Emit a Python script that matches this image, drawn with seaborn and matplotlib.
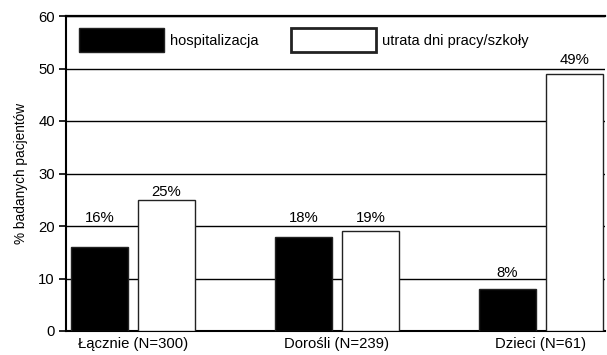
import matplotlib
matplotlib.use("Agg")
import matplotlib.pyplot as plt
from matplotlib.patches import Patch
import pandas as pd
import seaborn as sns

# Data
groups = ["Łącznie (N=300)", "Dorośli (N=239)", "Dzieci (N=61)"]
series_names = ["hospitalizacja", "utrata dni pracy/szkoły"]
hospitalizacja = [16, 18, 8]
utrata_dni = [25, 19, 49]
# heights at which the percentage labels sit
label_y_hosp = [20.8, 20.8, 10.3]
label_y_utrata = [25.8, 20.8, 50.8]
y_ticks = [0, 10, 20, 30, 40, 50, 60]

df = pd.DataFrame({
    "grupa": groups * 2,
    "seria": [series_names[0]] * 3 + [series_names[1]] * 3,
    "wartosc": hospitalizacja + utrata_dni,
})

sns.set_theme(style="ticks")
plt.rcParams["font.family"] = ["Liberation Sans", "DejaVu Sans"]
plt.rcParams["text.color"] = "black"
plt.rcParams["axes.labelcolor"] = "black"
plt.rcParams["xtick.color"] = "black"
plt.rcParams["ytick.color"] = "black"

fig = plt.figure(figsize=(6.07, 3.55), dpi=100)
ax = fig.add_axes([66 / 607, 24 / 355, 539 / 607, 315 / 355])

palette = {series_names[0]: "black", series_names[1]: "white"}
sns.barplot(data=df, x="grupa", y="wartosc", hue="seria", hue_order=series_names,
            order=groups, palette=palette, edgecolor="#222222", linewidth=1.0,
            width=0.66, gap=0.155, dodge=True, saturation=1, ax=ax, legend=False,
            zorder=3)

ax.set_xlim(-0.328, 2.314)
ax.set_ylim(0, 60)
ax.set_yticks(y_ticks)
ax.set_axisbelow(True)
ax.yaxis.grid(True, color="black", linewidth=1.0)
ax.xaxis.grid(False)

ax.spines["right"].set_visible(False)
ax.spines["top"].set_linewidth(1.6)
ax.spines["left"].set_linewidth(1.5)
ax.spines["bottom"].set_linewidth(1.5)
for s in ax.spines.values():
    s.set_color("black")

ax.tick_params(axis="y", length=5, width=1.2, pad=3, labelsize=10.7, direction="out")
ax.tick_params(axis="x", length=0, pad=4, labelsize=10.7)
ax.set_xlabel("")
ax.set_ylabel("% badanych pacjentów", fontsize=9.8, labelpad=7.5)

# percentage labels above bars
for container, values, label_y in zip(ax.containers,
                                      [hospitalizacja, utrata_dni],
                                      [label_y_hosp, label_y_utrata]):
    for bar, v, ly in zip(container, values, label_y):
        ax.text(bar.get_x() + bar.get_width() / 2, ly, f"{v}%",
                ha="center", va="baseline", fontsize=10.7, zorder=4)

handles = [
    Patch(facecolor="black", edgecolor="#222222", linewidth=1.0, label=series_names[0]),
    Patch(facecolor="white", edgecolor="#222222", linewidth=2.0, label=series_names[1]),
]
ax.legend(handles=handles, loc="upper left", ncol=2, frameon=False,
          bbox_to_anchor=(79 / 607, 1 - 28 / 355), bbox_transform=fig.transFigure,
          borderpad=0, borderaxespad=0, handlelength=5.83, handleheight=2.155,
          handletextpad=0.41, columnspacing=2.26, fontsize=10.5)

fig.savefig("out.png", dpi=100)
